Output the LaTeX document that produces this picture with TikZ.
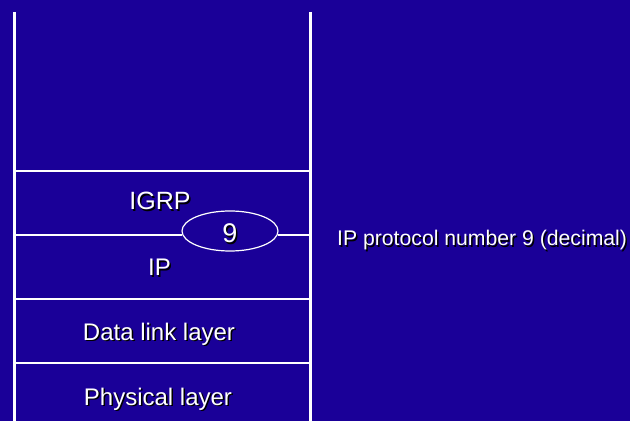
\documentclass[tikz,border=0pt]{standalone}
\usepackage{fontspec}
\setmainfont{Liberation Sans}
\usetikzlibrary{positioning,shapes.geometric}
\definecolor{slideblue}{RGB}{26,0,152}

\begin{document}
\begin{tikzpicture}[x=1pt,y=-1pt]
\tikzstyle{every node}+=[inner sep=0pt]
\tikzstyle{lbl}=[text=white,anchor=base,font=\fontsize{24}{28}\selectfont]
\tikzstyle{shade}=[lbl,text=black]
\tikzstyle{rule}=[white,line width=1.2]
\fill [slideblue] (0,0) rectangle (630,421);
% stack outline
\coordinate (tl) at (14,12);
\coordinate (bl) at (14,421);
\coordinate (tr) at (310.5,12);
\coordinate (br) at (310.5,421);
\draw [white,line width=3] (tl) -- (bl);
\draw [white,line width=3] (tr) -- (br);
\draw [rule] (14,171) -- (310.5,171);
\draw [rule] (14,299) -- (310.5,299);
\draw [rule] (14,363) -- (310.5,363);
% protocol number field
\node [ellipse,draw=white,line width=1.2,minimum width=96,minimum height=40] (protnum) at (230,231) {};
\coordinate (ipl) at (14,235);
\coordinate (ipr) at (310.5,235);
\draw [rule] (ipl) -- (protnum.185 |- ipl);
\draw [rule] (protnum.-5 |- ipr) -- (ipr);
% labels with drop shadow
\draw (161.5,211.5) node [shade,font=\fontsize{25}{28}\selectfont] {IGRP};
\draw (160,210) node [lbl,font=\fontsize{25}{28}\selectfont] (igrp) {IGRP};
\draw (231.5,244.5) node [shade,font=\fontsize{27}{30}\selectfont] {9};
\draw (230,243) node [lbl,font=\fontsize{27}{30}\selectfont] (nine) {9};
\draw (161,277.5) node [shade] {IP};
\draw (159.5,276) node [lbl] (ip) {IP};
\draw (160.5,341.5) node [shade] {Data link layer};
\draw (159,340) node [lbl] (dll) {Data link layer};
\draw (159.5,406.5) node [shade] {Physical layer};
\draw (158,405) node [lbl] (phy) {Physical layer};
\draw (338.5,247.5) node [shade,anchor=base west,font=\fontsize{21.2}{24}\selectfont] {IP protocol number 9 (decimal)};
\draw (337,246) node [lbl,anchor=base west,font=\fontsize{21.2}{24}\selectfont] (note) {IP protocol number 9 (decimal)};
\end{tikzpicture}
\end{document}
